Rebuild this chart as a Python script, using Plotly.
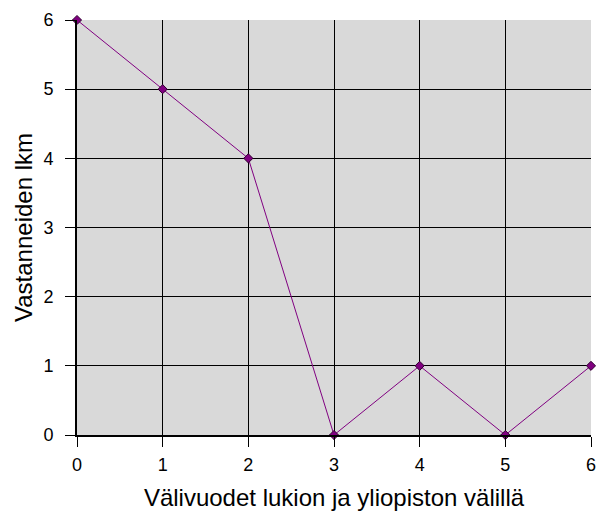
import plotly.graph_objects as go

gap_years = [0, 1, 2, 3, 4, 5, 6]
respondents = [6, 5, 4, 0, 1, 0, 1]

fig = go.Figure(go.Scatter(
    x=gap_years,
    y=respondents,
    mode="lines+markers",
    line=dict(color="#800080", width=1),
    marker=dict(symbol="diamond", size=7, color="#800080",
                line=dict(color="#300030", width=1)),
    cliponaxis=False,
))

axis_common = dict(
    showgrid=True, gridcolor="#000000", gridwidth=1,
    zeroline=False,
    showline=True, linecolor="#000000", linewidth=2,
    ticks="outside", ticklen=10, tickcolor="#000000", tickwidth=1,
    tickfont=dict(family="Liberation Sans, Arial", size=18, color="#000000"),
    ticklabeloverflow="allow",
    dtick=1,
    automargin=False,
)

fig.update_layout(
    width=596, height=515,
    margin=dict(l=77, r=5, t=20, b=80),
    paper_bgcolor="#ffffff",
    plot_bgcolor="#d9d9d9",
    showlegend=False,
    font=dict(family="Liberation Sans, Arial", color="#000000"),
    xaxis=dict(axis_common, range=[0, 6], ticklabelstandoff=2,
               title=dict(text="Välivuodet lukion ja yliopiston välillä",
                          font=dict(size=24), standoff=16)),
    yaxis=dict(axis_common, range=[0, 6], ticklabelstandoff=8,
               title=dict(text="Vastanneiden lkm", font=dict(size=24), standoff=4)),
)

# drop the default 8px page margin so the figure fills the window
fig.write_html("out.html", config={"displayModeBar": False},
               post_script="document.body.style.margin='0';")
